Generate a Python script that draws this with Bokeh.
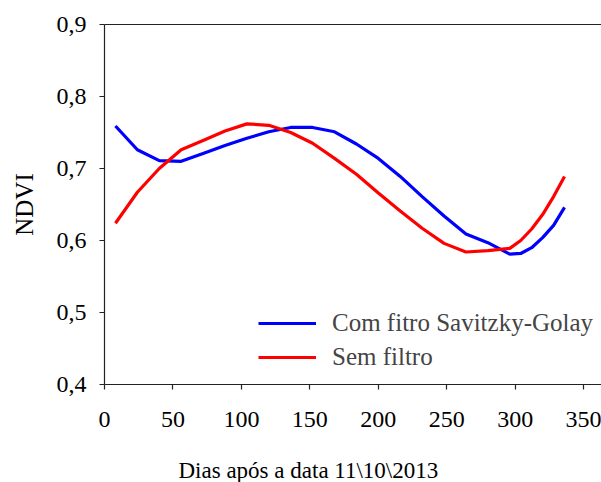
from bokeh.plotting import figure
from bokeh.layouts import column
from bokeh.models import (Range1d, FixedTicker, CustomJSTickFormatter, Legend, LegendItem,
                          LinearAxis, Label)
from bokeh.embed import file_html
from bokeh.resources import INLINE

# Days after 11/10/2013
days = [8, 24, 40, 56, 72, 88, 104, 120, 136, 152, 168, 184, 200, 216, 232, 248,
        264, 280, 296, 304, 312, 320, 328, 336]
ndvi_sg = [0.759, 0.726, 0.711, 0.710, 0.721, 0.732, 0.742, 0.751, 0.757, 0.757,
           0.751, 0.734, 0.714, 0.689, 0.661, 0.634, 0.609, 0.597, 0.581, 0.582,
           0.590, 0.604, 0.621, 0.646]
ndvi_raw = [0.624, 0.667, 0.700, 0.726, 0.739, 0.752, 0.762, 0.760, 0.750, 0.735,
            0.714, 0.692, 0.666, 0.641, 0.617, 0.596, 0.584, 0.586, 0.589, 0.600,
            0.616, 0.636, 0.661, 0.689]
x_ticks = [0, 50, 100, 150, 200, 250, 300, 350]
y_ticks = [0.4, 0.5, 0.6, 0.7, 0.8, 0.9]
label_sg = "Com fitro Savitzky-Golay"
label_raw = "Sem filtro"
x_title = "Dias após a data  11\\10\\2013"
y_title = "NDVI"

FONT = "Liberation Serif"

p = figure(width=601, height=456, output_backend="svg", toolbar_location=None,
           x_range=Range1d(0, 363), y_range=Range1d(0.4, 0.9),
           min_border_left=104, min_border_right=0, min_border_top=24, min_border_bottom=72)
p.outline_line_color = None
p.xgrid.visible = False
p.ygrid.visible = False
p.background_fill_color = "white"
p.border_fill_color = "white"

r1 = p.line(days, ndvi_sg, line_color="#0000FF", line_width=3.2)
r2 = p.line(days, ndvi_raw, line_color="#FF0000", line_width=3.2)

for ax in (p.xaxis[0], p.yaxis[0]):
    ax.axis_line_color = "#222222"
    ax.axis_line_width = 1.2
    ax.major_tick_line_color = "#222222"
    ax.major_tick_line_width = 1.2
    ax.major_tick_in = 0
    ax.major_tick_out = 5
    ax.minor_tick_line_color = None
    ax.major_label_text_font = FONT
    ax.major_label_text_font_size = "24px"
    ax.major_label_text_font_style = "normal"
    ax.major_label_text_color = "black"

p.xaxis[0].ticker = FixedTicker(ticks=x_ticks)
p.xaxis[0].major_label_standoff = 22
p.yaxis[0].ticker = FixedTicker(ticks=y_ticks)
p.yaxis[0].formatter = CustomJSTickFormatter(code="return tick.toFixed(1).replace('.', ',');")
p.yaxis[0].major_label_standoff = 13
p.yaxis[0].axis_label = y_title
p.yaxis[0].axis_label_text_font = FONT
p.yaxis[0].axis_label_text_font_size = "25px"
p.yaxis[0].axis_label_text_font_style = "normal"
p.yaxis[0].axis_label_text_color = "black"
p.yaxis[0].axis_label_standoff = 16

top = LinearAxis(major_tick_line_color=None, minor_tick_line_color=None,
                 major_label_text_font_size="0px", axis_line_color="#222222",
                 axis_line_width=1.2, ticker=FixedTicker(ticks=[]),
                 major_label_standoff=0)
p.add_layout(top, "above")

legend = Legend(items=[LegendItem(label=label_sg, renderers=[r1]),
                       LegendItem(label=label_raw, renderers=[r2])],
                location=(154, 12), padding=0, margin=0, spacing=4,
                glyph_width=58, glyph_height=30, label_height=30, label_standoff=16,
                label_text_font=FONT, label_text_font_size="25px",
                label_text_font_style="normal",
                border_line_color=None, background_fill_alpha=0)
p.add_layout(legend, "center")

# strip under the chart holding the x-axis title (its frame is aligned with the chart's frame)
t = figure(width=601, height=26, output_backend="svg", toolbar_location=None,
           x_range=Range1d(104, 601), y_range=Range1d(0, 26),
           x_axis_location=None, y_axis_location=None,
           min_border_left=104, min_border_right=0, min_border_top=0, min_border_bottom=0)
t.outline_line_color = None
t.xgrid.visible = False
t.ygrid.visible = False
t.add_layout(Label(x=178, y=12.5, text=x_title, text_font=FONT, text_font_size="23px",
                   text_font_style="normal", text_color="black",
                   text_align="left", text_baseline="middle"))

layout = column(p, t, spacing=0)
open("out.html", "w").write(file_html(layout, INLINE))
